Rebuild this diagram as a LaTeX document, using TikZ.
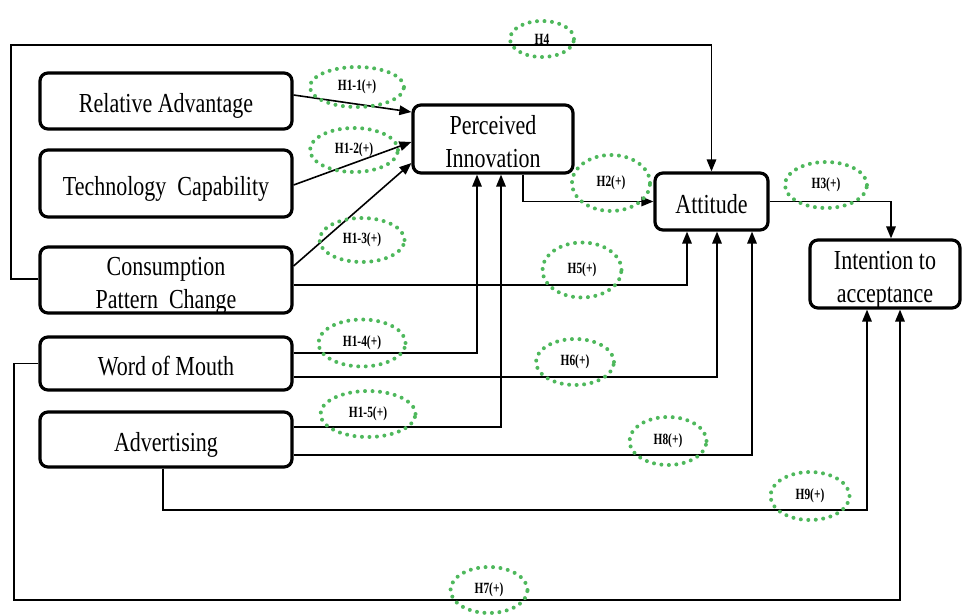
\documentclass[tikz,border=0pt]{standalone}
\usepackage{fontspec}
\usepackage{graphicx}
\setmainfont{Liberation Serif}
\usetikzlibrary{arrows.meta,shapes.geometric}
\definecolor{hypgreen}{RGB}{78,184,92}
\newcommand{\bt}[1]{\raisebox{-5.5pt}[\height][\depth]{\scalebox{1}[1.25]{\begin{tabular}{@{}c@{}}#1\end{tabular}}}}
\newcommand{\lt}[1]{\scalebox{0.95}[1.3]{#1}}
\tikzset{
  box/.style={draw=black, line width=3.2pt, rounded corners=8pt, inner sep=0pt,
    align=center, font=\fontsize{22}{26}\selectfont},
  conn/.style={draw=black, line width=1.6pt},
  arr/.style={conn, -{Triangle[length=12pt,width=9.5pt]}},
  hyp/.style={draw=hypgreen, ellipse, line width=4pt, dash pattern=on 0pt off 7.5pt,
    line cap=round, inner sep=0pt, font=\bfseries\fontsize{12}{13}\selectfont},
}
\begin{document}
\begin{tikzpicture}[x=1pt,y=-1pt]
\useasboundingbox (0,0) rectangle (962,615);
% boxes
\node[box, minimum width=252pt, minimum height=56pt] (ra) at (166,101) {\bt{Relative Advantage}};
\node[box, minimum width=252pt, minimum height=67pt] (tc) at (166,183.5) {\bt{Technology\ \ Capability}};
\node[box, minimum width=252pt, minimum height=66pt] (cpc) at (166,280) {\bt{Consumption\\Pattern\ \ Change}};
\node[box, minimum width=252pt, minimum height=53pt] (wom) at (166,363.5) {\bt{Word of Mouth}};
\node[box, minimum width=252pt, minimum height=55pt] (adv) at (166,439.5) {\bt{Advertising}};
\node[box, minimum width=160pt, minimum height=68pt] (pi) at (493,139) {\bt{Perceived\\Innovation}};
\node[box, minimum width=113pt, minimum height=57pt] (att) at (711.5,201.5) {\bt{Attitude}};
\node[box, minimum width=150pt, minimum height=68pt] (ita) at (885,274) {\bt{Intention to\\acceptance}};
% connectors
\draw[arr] (cpc.west |- 0,279) -- (11,279) -- (11,45) -| (att.north);
\draw[arr] (ra.east |- 0,95) -- (pi.west |- 0,112);
\draw[arr] (tc.east |- 0,185) -- (pi.west |- 0,142);
\draw[arr] (cpc.east |- 0,266) -- (pi.west |- 0,163);
\draw[arr] (wom.east |- 0,353) -| (pi.south -| 477,0);
\draw[arr] (adv.east |- 0,427) -| (pi.south -| 501,0);
\draw[arr] (pi.south -| 523,0) |- (att.west);
\draw[arr] (att.east) -| (ita.north -| 891,0);
\draw[arr] (cpc.east |- 0,285) -| (att.south -| 687,0);
\draw[arr] (wom.east |- 0,377) -| (att.south -| 717,0);
\draw[arr] (adv.east |- 0,455) -| (att.south -| 752,0);
\draw[arr] (adv.south -| 163,0) -- (163,510) -| (ita.south -| 867,0);
\draw[arr] (wom.west) -- (14,363.5) -- (14,600) -| (ita.south -| 900,0);
% hypotheses
\node[hyp, minimum width=64pt, minimum height=36pt] (h4) at (542,39) {\lt{H4}};
\node[hyp, minimum width=94pt, minimum height=40pt] (h11) at (357,87) {\lt{H1-1(+)}};
\node[hyp, minimum width=88pt, minimum height=44pt] (h12) at (354,150) {\lt{H1-2(+)}};
\node[hyp, minimum width=85pt, minimum height=44pt] (h13) at (362,240) {\lt{H1-3(+)}};
\node[hyp, minimum width=78pt, minimum height=56pt] (h2) at (611,183) {\lt{H2(+)}};
\node[hyp, minimum width=82pt, minimum height=46pt] (h3) at (826,185) {\lt{H3(+)}};
\node[hyp, minimum width=79pt, minimum height=55pt] (h5) at (582,270) {\lt{H5(+)}};
\node[hyp, minimum width=87pt, minimum height=47pt] (h14) at (362,343) {\lt{H1-4(+)}};
\node[hyp, minimum width=95pt, minimum height=46pt] (h15) at (368,414) {\lt{H1-5(+)}};
\node[hyp, minimum width=78pt, minimum height=46pt] (h6) at (575,362) {\lt{H6(+)}};
\node[hyp, minimum width=77pt, minimum height=48pt] (h8) at (668,441) {\lt{H8(+)}};
\node[hyp, minimum width=79pt, minimum height=48pt] (h9) at (810,496) {\lt{H9(+)}};
\node[hyp, minimum width=77pt, minimum height=46pt] (h7) at (489,590) {\lt{H7(+)}};
\end{tikzpicture}
\end{document}
